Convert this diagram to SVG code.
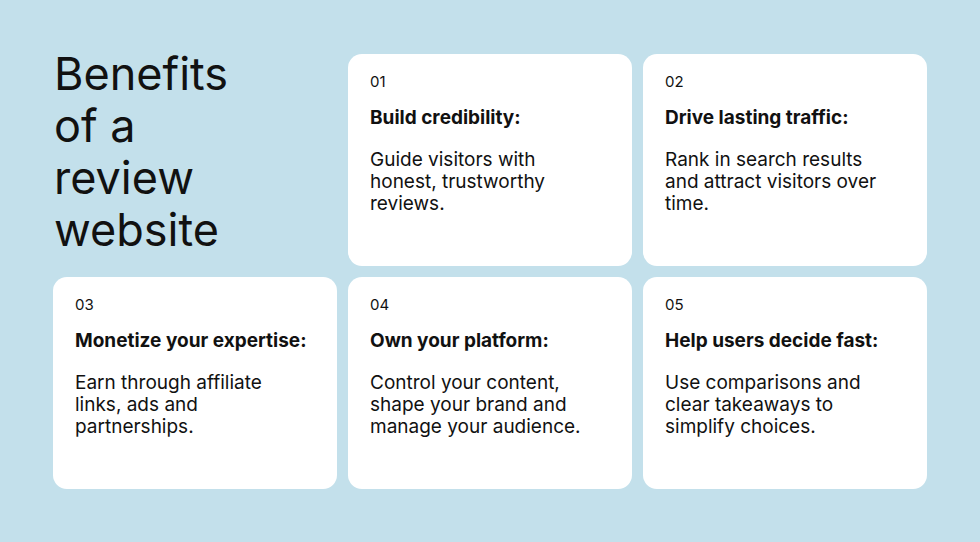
<svg xmlns="http://www.w3.org/2000/svg" width="980" height="542" viewBox="0 0 980 542">
<style>
.card{fill:#fff}
.num{font-family:"Inter","Liberation Sans",sans-serif;font-size:15px;fill:#111}
.h{font-family:"Inter","Liberation Sans",sans-serif;font-size:19px;font-weight:700;fill:#111}
.b{font-family:"Inter","Liberation Sans",sans-serif;font-size:19px;fill:#111}
.t{font-family:"Inter","Liberation Sans",sans-serif;font-size:45px;fill:#111}
</style>
<rect width="980" height="542" fill="#c3e0eb"/>
<g id="title"><text class="t" x="54" y="90">Benefits</text><text class="t" x="54" y="142">of a</text><text class="t" x="54" y="194">review</text><text class="t" x="54" y="246">website</text></g>
<g id="card1"><rect class="card" x="348" y="54" width="284" height="212" rx="14"/><text class="num" x="370" y="87">01</text><text class="h" x="370" y="124">Build credibility:</text><text class="b" x="370" y="166">Guide visitors with</text><text class="b" x="370" y="188">honest, trustworthy</text><text class="b" x="370" y="210">reviews.</text></g>
<g id="card2"><rect class="card" x="643" y="54" width="284" height="212" rx="14"/><text class="num" x="665" y="87">02</text><text class="h" x="665" y="124">Drive lasting traffic:</text><text class="b" x="665" y="166">Rank in search results</text><text class="b" x="665" y="188">and attract visitors over</text><text class="b" x="665" y="210">time.</text></g>
<g id="card3"><rect class="card" x="53" y="277" width="284" height="212" rx="14"/><text class="num" x="75" y="310">03</text><text class="h" x="75" y="347">Monetize your expertise:</text><text class="b" x="75" y="389">Earn through affiliate</text><text class="b" x="75" y="411">links, ads and</text><text class="b" x="75" y="433">partnerships.</text></g>
<g id="card4"><rect class="card" x="348" y="277" width="284" height="212" rx="14"/><text class="num" x="370" y="310">04</text><text class="h" x="370" y="347">Own your platform:</text><text class="b" x="370" y="389">Control your content,</text><text class="b" x="370" y="411">shape your brand and</text><text class="b" x="370" y="433">manage your audience.</text></g>
<g id="card5"><rect class="card" x="643" y="277" width="284" height="212" rx="14"/><text class="num" x="665" y="310">05</text><text class="h" x="665" y="347">Help users decide fast:</text><text class="b" x="665" y="389">Use comparisons and</text><text class="b" x="665" y="411">clear takeaways to</text><text class="b" x="665" y="433">simplify choices.</text></g>
<g id="connectors"/>
</svg>
